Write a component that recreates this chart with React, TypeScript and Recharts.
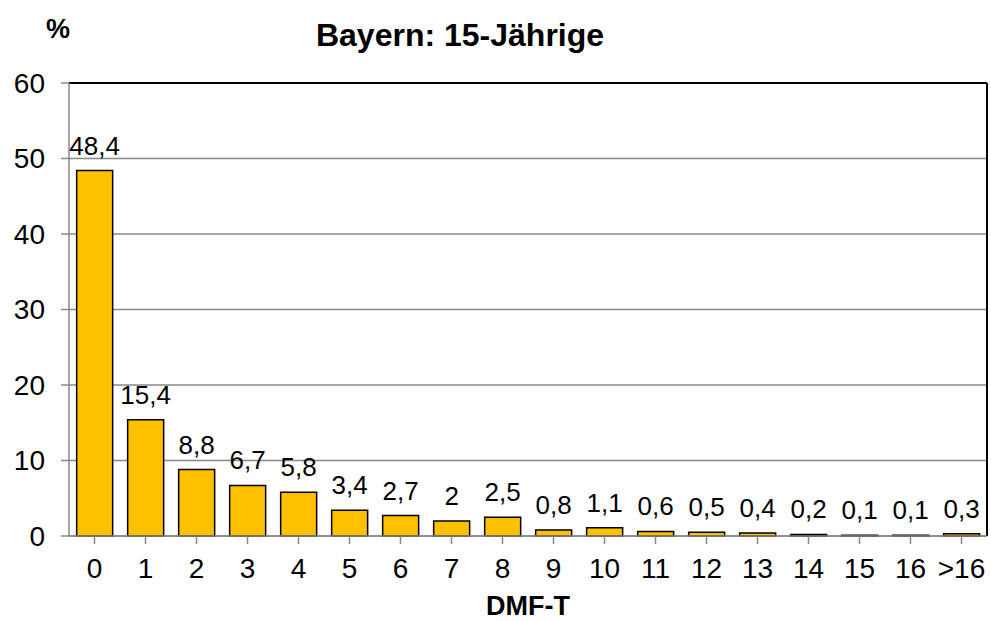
import { Bar, BarChart, CartesianGrid, LabelList, ReferenceLine, XAxis, YAxis } from "recharts";

const categories = ["0", "1", "2", "3", "4", "5", "6", "7", "8", "9", "10", "11", "12", "13", "14", "15", "16", ">16"];
const percent = [48.4, 15.4, 8.8, 6.7, 5.8, 3.4, 2.7, 2, 2.5, 0.8, 1.1, 0.6, 0.5, 0.4, 0.2, 0.1, 0.1, 0.3];
const yTicks = [0, 10, 20, 30, 40, 50, 60];

const data = categories.map((c, i) => ({ dmft: c, value: percent[i] }));
const font = "'Liberation Sans', Arial, sans-serif";

export default function App() {
  return (
    <div style={{ position: "absolute", left: 0, top: 0, width: 991, height: 621, background: "#fff", fontFamily: font }}>
      <div style={{ position: "absolute", left: 46, top: 14, fontSize: 27, fontWeight: "bold" }}>%</div>
      <div style={{ position: "absolute", left: 0, width: 920, top: 17, textAlign: "center", fontSize: 32, fontWeight: "bold" }}>
        Bayern: 15-Jährige
      </div>
      <BarChart width={991} height={621} data={data} margin={{ top: 83, right: 4, bottom: 0, left: 0 }} barCategoryGap="15%">
        <CartesianGrid vertical={false} stroke="#888" strokeWidth={1.5} />
        <XAxis
          dataKey="dmft"
          height={85}
          interval={0}
          stroke="#888"
          strokeWidth={1.5}
          tickSize={8}
          tickMargin={14}
          tick={{ fill: "#000", fontSize: 28, fontFamily: font }}
          label={{ value: "DMF-T", position: "insideBottom", offset: 6, fill: "#000", fontSize: 27, fontWeight: "bold", fontFamily: font }}
        />
        <YAxis
          domain={[0, 60]}
          ticks={yTicks}
          width={69}
          stroke="#888"
          strokeWidth={1.5}
          tickSize={8}
          tickMargin={16}
          tick={{ fill: "#000", fontSize: 28, fontFamily: font }}
        />
        <ReferenceLine y={60} stroke="#000" strokeWidth={2} />
        <ReferenceLine x=">16" position="end" stroke="#000" strokeWidth={2} />
        <Bar dataKey="value" fill="#FFC000" stroke="#000" strokeWidth={1.5} isAnimationActive={false}>
          <LabelList
            dataKey="value"
            position="top"
            offset={16}
            formatter={(v: any) => String(v).replace(".", ",")}
            style={{ fill: "#000", fontSize: 26, fontFamily: font }}
          />
        </Bar>
      </BarChart>
    </div>
  );
}
